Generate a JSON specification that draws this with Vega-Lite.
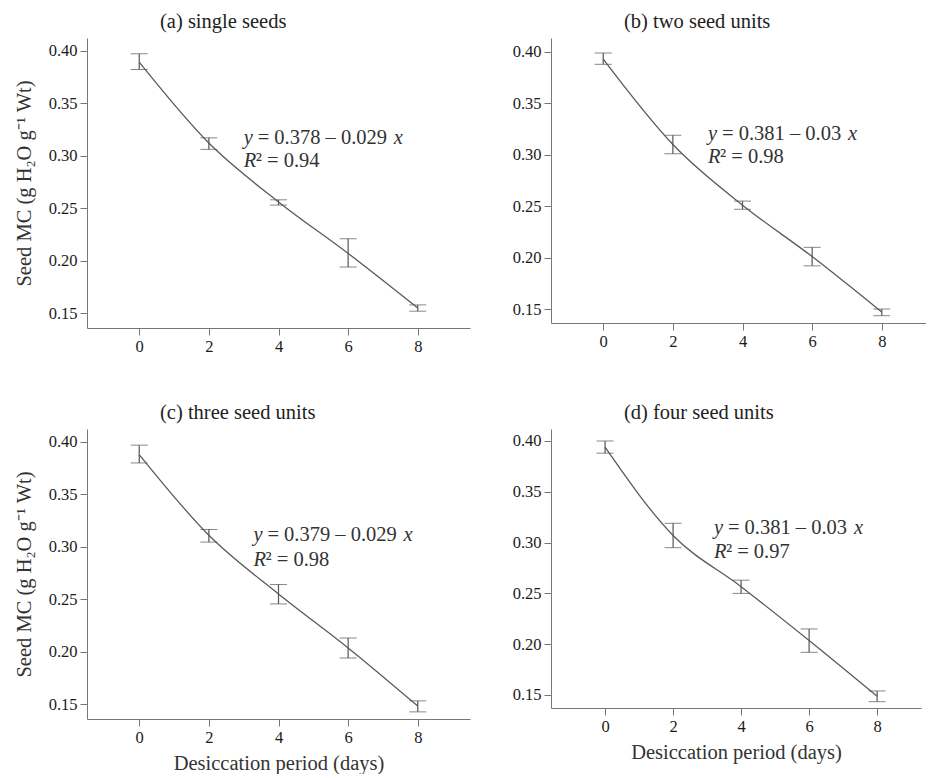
{
  "$schema": "https://vega.github.io/schema/vega-lite/v6.json",
  "padding": {"left": 14, "top": 11, "right": 0, "bottom": 0},
  "background": "white",
  "config": {
    "view": {"stroke": null},
    "font": "Liberation Serif",
    "style": {"guide-label": {"font": "Liberation Serif"}, "guide-title": {"font": "Liberation Serif"}},
    "text": {"font": "Liberation Serif"},
    "title": {"font": "Liberation Serif", "fontSize": 20.5, "fontWeight": "normal", "color": "#222", "anchor": "start", "frame": "group", "dx": 73, "offset": 6},
    "axis": {"grid": false, "domainColor": "#777", "tickColor": "#777", "labelFont": "Liberation Serif", "labelFontSize": 16.5, "labelColor": "#1a1a1a", "titleFont": "Liberation Serif", "titleFontSize": 20.5, "titleFontWeight": "normal", "titleColor": "#333", "tickSize": 7, "labelPadding": 3},
    "axisX": {"titlePadding": 8, "labelFont": "Liberation Serif"},
    "axisY": {"titlePadding": 14, "labelFont": "Liberation Serif"}
  },
  "datasets": {
    "mc": [
      {"panel": "a", "day": 0, "mean": 0.389, "lo": 0.382, "hi": 0.397},
      {"panel": "a", "day": 2, "mean": 0.312, "lo": 0.306, "hi": 0.317},
      {"panel": "a", "day": 4, "mean": 0.256, "lo": 0.253, "hi": 0.258},
      {"panel": "a", "day": 6, "mean": 0.207, "lo": 0.194, "hi": 0.221},
      {"panel": "a", "day": 8, "mean": 0.155, "lo": 0.152, "hi": 0.158},
      {"panel": "b", "day": 0, "mean": 0.393, "lo": 0.388, "hi": 0.399},
      {"panel": "b", "day": 2, "mean": 0.310, "lo": 0.301, "hi": 0.319},
      {"panel": "b", "day": 4, "mean": 0.251, "lo": 0.247, "hi": 0.255},
      {"panel": "b", "day": 6, "mean": 0.201, "lo": 0.192, "hi": 0.210},
      {"panel": "b", "day": 8, "mean": 0.147, "lo": 0.1435, "hi": 0.150},
      {"panel": "c", "day": 0, "mean": 0.388, "lo": 0.380, "hi": 0.397},
      {"panel": "c", "day": 2, "mean": 0.311, "lo": 0.3045, "hi": 0.3165},
      {"panel": "c", "day": 4, "mean": 0.255, "lo": 0.2455, "hi": 0.264},
      {"panel": "c", "day": 6, "mean": 0.2035, "lo": 0.194, "hi": 0.213},
      {"panel": "c", "day": 8, "mean": 0.148, "lo": 0.1425, "hi": 0.153},
      {"panel": "d", "day": 0, "mean": 0.394, "lo": 0.388, "hi": 0.400},
      {"panel": "d", "day": 2, "mean": 0.307, "lo": 0.295, "hi": 0.319},
      {"panel": "d", "day": 4, "mean": 0.2566, "lo": 0.250, "hi": 0.263},
      {"panel": "d", "day": 6, "mean": 0.2036, "lo": 0.192, "hi": 0.215},
      {"panel": "d", "day": 8, "mean": 0.1487, "lo": 0.1434, "hi": 0.154}
    ],
    "eq": [
      {"panel": "a", "px": 3.0, "py1": 0.317, "py2": 0.2948, "y": "y", "mid1": "= 0.378 – 0.029", "x": "x", "r": "R", "mid2": "² = 0.94"},
      {"panel": "b", "px": 3.01, "py1": 0.3202, "py2": 0.2976, "y": "y", "mid1": "= 0.381 – 0.03", "x": "x", "r": "R", "mid2": "² = 0.98"},
      {"panel": "c", "px": 3.28, "py1": 0.3108, "py2": 0.287, "y": "y", "mid1": "= 0.379 – 0.029", "x": "x", "r": "R", "mid2": "² = 0.98"},
      {"panel": "d", "px": 3.2, "py1": 0.314, "py2": 0.2904, "y": "y", "mid1": "= 0.381 – 0.03", "x": "x", "r": "R", "mid2": "² = 0.97"}
    ]
  },
  "spacing": 47,
  "vconcat": [
    {
      "spacing": 42,
      "hconcat": [
        {
          "width": 383, "height": 290,
          "title": "(a) single seeds",
          "layer": [
            {"data": {"name": "mc"}, "transform": [{"filter": "datum.panel == 'a'"}],
             "mark": {"type": "line", "interpolate": "monotone", "color": "#5a5a5a", "strokeWidth": 1.3},
             "encoding": {
               "x": {"field": "day", "type": "quantitative", "scale": {"domain": [-1.5, 9.5], "nice": false, "zero": false}, "axis": {"values": [0, 2, 4, 6, 8], "title": null, "labelFont": "Liberation Serif"}},
               "y": {"field": "mean", "type": "quantitative", "scale": {"domain": [0.136, 0.412], "nice": false, "zero": false}, "axis": {"values": [0.15, 0.2, 0.25, 0.3, 0.35, 0.4], "format": ".2f", "title": "Seed MC (g H₂O g⁻¹ Wt)", "labelFont": "Liberation Serif"}}}},
            {"data": {"name": "mc"}, "transform": [{"filter": "datum.panel == 'a'"}],
             "mark": {"type": "errorbar", "ticks": {"size": 17, "color": "#555"}, "rule": {"color": "#555", "strokeWidth": 1.2}},
             "encoding": {"x": {"field": "day", "type": "quantitative"}, "y": {"field": "lo", "type": "quantitative", "axis": {"title": "Seed MC (g H₂O g⁻¹ Wt)"}}, "y2": {"field": "hi"}}},
            {"data": {"name": "eq"}, "transform": [{"filter": "datum.panel == 'a'"}],
             "layer": [
               {"mark": {"type": "text", "font": "Liberation Serif", "fontStyle": "italic", "fontSize": 20.5, "align": "left", "baseline": "middle", "color": "#333"}, "encoding": {"x": {"field": "px", "type": "quantitative"}, "y": {"field": "py1", "type": "quantitative"}, "text": {"field": "y"}}},
               {"mark": {"type": "text", "font": "Liberation Serif", "fontSize": 20.5, "align": "left", "baseline": "middle", "dx": 14, "color": "#333"}, "encoding": {"x": {"field": "px", "type": "quantitative"}, "y": {"field": "py1", "type": "quantitative"}, "text": {"field": "mid1"}}},
               {"mark": {"type": "text", "font": "Liberation Serif", "fontStyle": "italic", "fontSize": 20.5, "align": "left", "baseline": "middle", "dx": 150, "color": "#333"}, "encoding": {"x": {"field": "px", "type": "quantitative"}, "y": {"field": "py1", "type": "quantitative"}, "text": {"field": "x"}}},
               {"mark": {"type": "text", "font": "Liberation Serif", "fontStyle": "italic", "fontSize": 20.5, "align": "left", "baseline": "middle", "color": "#333"}, "encoding": {"x": {"field": "px", "type": "quantitative"}, "y": {"field": "py2", "type": "quantitative"}, "text": {"field": "r"}}},
               {"mark": {"type": "text", "font": "Liberation Serif", "fontSize": 20.5, "align": "left", "baseline": "middle", "dx": 12, "color": "#333"}, "encoding": {"x": {"field": "px", "type": "quantitative"}, "y": {"field": "py2", "type": "quantitative"}, "text": {"field": "mid2"}}}
             ]}
          ]
        },
        {
          "width": 375, "height": 285,
          "title": "(b) two seed units",
          "layer": [
            {"data": {"name": "mc"}, "transform": [{"filter": "datum.panel == 'b'"}],
             "mark": {"type": "line", "interpolate": "monotone", "color": "#5a5a5a", "strokeWidth": 1.3},
             "encoding": {
               "x": {"field": "day", "type": "quantitative", "scale": {"domain": [-1.5, 9.27], "nice": false, "zero": false}, "axis": {"values": [0, 2, 4, 6, 8], "title": null, "labelFont": "Liberation Serif"}},
               "y": {"field": "mean", "type": "quantitative", "scale": {"domain": [0.1364, 0.4136], "nice": false, "zero": false}, "axis": {"values": [0.15, 0.2, 0.25, 0.3, 0.35, 0.4], "format": ".2f", "title": null, "labelFont": "Liberation Serif"}}}},
            {"data": {"name": "mc"}, "transform": [{"filter": "datum.panel == 'b'"}],
             "mark": {"type": "errorbar", "ticks": {"size": 17, "color": "#555"}, "rule": {"color": "#555", "strokeWidth": 1.2}},
             "encoding": {"x": {"field": "day", "type": "quantitative"}, "y": {"field": "lo", "type": "quantitative", "axis": {"title": null}}, "y2": {"field": "hi"}}},
            {"data": {"name": "eq"}, "transform": [{"filter": "datum.panel == 'b'"}],
             "layer": [
               {"mark": {"type": "text", "font": "Liberation Serif", "fontStyle": "italic", "fontSize": 20.5, "align": "left", "baseline": "middle", "color": "#333"}, "encoding": {"x": {"field": "px", "type": "quantitative"}, "y": {"field": "py1", "type": "quantitative"}, "text": {"field": "y"}}},
               {"mark": {"type": "text", "font": "Liberation Serif", "fontSize": 20.5, "align": "left", "baseline": "middle", "dx": 14, "color": "#333"}, "encoding": {"x": {"field": "px", "type": "quantitative"}, "y": {"field": "py1", "type": "quantitative"}, "text": {"field": "mid1"}}},
               {"mark": {"type": "text", "font": "Liberation Serif", "fontStyle": "italic", "fontSize": 20.5, "align": "left", "baseline": "middle", "dx": 140, "color": "#333"}, "encoding": {"x": {"field": "px", "type": "quantitative"}, "y": {"field": "py1", "type": "quantitative"}, "text": {"field": "x"}}},
               {"mark": {"type": "text", "font": "Liberation Serif", "fontStyle": "italic", "fontSize": 20.5, "align": "left", "baseline": "middle", "color": "#333"}, "encoding": {"x": {"field": "px", "type": "quantitative"}, "y": {"field": "py2", "type": "quantitative"}, "text": {"field": "r"}}},
               {"mark": {"type": "text", "font": "Liberation Serif", "fontSize": 20.5, "align": "left", "baseline": "middle", "dx": 12, "color": "#333"}, "encoding": {"x": {"field": "px", "type": "quantitative"}, "y": {"field": "py2", "type": "quantitative"}, "text": {"field": "mid2"}}}
             ]}
          ]
        }
      ]
    },
    {
      "spacing": 42,
      "hconcat": [
        {
          "width": 383, "height": 290,
          "title": "(c) three seed units",
          "layer": [
            {"data": {"name": "mc"}, "transform": [{"filter": "datum.panel == 'c'"}],
             "mark": {"type": "line", "interpolate": "monotone", "color": "#5a5a5a", "strokeWidth": 1.3},
             "encoding": {
               "x": {"field": "day", "type": "quantitative", "scale": {"domain": [-1.5, 9.5], "nice": false, "zero": false}, "axis": {"values": [0, 2, 4, 6, 8], "title": "Desiccation period (days)", "labelFont": "Liberation Serif"}},
               "y": {"field": "mean", "type": "quantitative", "scale": {"domain": [0.1357, 0.4124], "nice": false, "zero": false}, "axis": {"values": [0.15, 0.2, 0.25, 0.3, 0.35, 0.4], "format": ".2f", "title": "Seed MC (g H₂O g⁻¹ Wt)", "labelFont": "Liberation Serif"}}}},
            {"data": {"name": "mc"}, "transform": [{"filter": "datum.panel == 'c'"}],
             "mark": {"type": "errorbar", "ticks": {"size": 17, "color": "#555"}, "rule": {"color": "#555", "strokeWidth": 1.2}},
             "encoding": {"x": {"field": "day", "type": "quantitative", "axis": {"title": "Desiccation period (days)"}}, "y": {"field": "lo", "type": "quantitative", "axis": {"title": "Seed MC (g H₂O g⁻¹ Wt)"}}, "y2": {"field": "hi"}}},
            {"data": {"name": "eq"}, "transform": [{"filter": "datum.panel == 'c'"}],
             "layer": [
               {"mark": {"type": "text", "font": "Liberation Serif", "fontStyle": "italic", "fontSize": 20.5, "align": "left", "baseline": "middle", "color": "#333"}, "encoding": {"x": {"field": "px", "type": "quantitative"}, "y": {"field": "py1", "type": "quantitative"}, "text": {"field": "y"}}},
               {"mark": {"type": "text", "font": "Liberation Serif", "fontSize": 20.5, "align": "left", "baseline": "middle", "dx": 14, "color": "#333"}, "encoding": {"x": {"field": "px", "type": "quantitative"}, "y": {"field": "py1", "type": "quantitative"}, "text": {"field": "mid1"}}},
               {"mark": {"type": "text", "font": "Liberation Serif", "fontStyle": "italic", "fontSize": 20.5, "align": "left", "baseline": "middle", "dx": 150, "color": "#333"}, "encoding": {"x": {"field": "px", "type": "quantitative"}, "y": {"field": "py1", "type": "quantitative"}, "text": {"field": "x"}}},
               {"mark": {"type": "text", "font": "Liberation Serif", "fontStyle": "italic", "fontSize": 20.5, "align": "left", "baseline": "middle", "color": "#333"}, "encoding": {"x": {"field": "px", "type": "quantitative"}, "y": {"field": "py2", "type": "quantitative"}, "text": {"field": "r"}}},
               {"mark": {"type": "text", "font": "Liberation Serif", "fontSize": 20.5, "align": "left", "baseline": "middle", "dx": 12, "color": "#333"}, "encoding": {"x": {"field": "px", "type": "quantitative"}, "y": {"field": "py2", "type": "quantitative"}, "text": {"field": "mid2"}}}
             ]}
          ]
        },
        {
          "width": 370, "height": 279,
          "title": "(d) four seed units",
          "layer": [
            {"data": {"name": "mc"}, "transform": [{"filter": "datum.panel == 'd'"}],
             "mark": {"type": "line", "interpolate": "monotone", "color": "#5a5a5a", "strokeWidth": 1.3},
             "encoding": {
               "x": {"field": "day", "type": "quantitative", "scale": {"domain": [-1.59, 9.29], "nice": false, "zero": false}, "axis": {"values": [0, 2, 4, 6, 8], "title": "Desiccation period (days)", "labelFont": "Liberation Serif"}},
               "y": {"field": "mean", "type": "quantitative", "scale": {"domain": [0.1372, 0.4118], "nice": false, "zero": false}, "axis": {"values": [0.15, 0.2, 0.25, 0.3, 0.35, 0.4], "format": ".2f", "title": null, "labelFont": "Liberation Serif"}}}},
            {"data": {"name": "mc"}, "transform": [{"filter": "datum.panel == 'd'"}],
             "mark": {"type": "errorbar", "ticks": {"size": 17, "color": "#555"}, "rule": {"color": "#555", "strokeWidth": 1.2}},
             "encoding": {"x": {"field": "day", "type": "quantitative", "axis": {"title": "Desiccation period (days)"}}, "y": {"field": "lo", "type": "quantitative", "axis": {"title": null}}, "y2": {"field": "hi"}}},
            {"data": {"name": "eq"}, "transform": [{"filter": "datum.panel == 'd'"}],
             "layer": [
               {"mark": {"type": "text", "font": "Liberation Serif", "fontStyle": "italic", "fontSize": 20.5, "align": "left", "baseline": "middle", "color": "#333"}, "encoding": {"x": {"field": "px", "type": "quantitative"}, "y": {"field": "py1", "type": "quantitative"}, "text": {"field": "y"}}},
               {"mark": {"type": "text", "font": "Liberation Serif", "fontSize": 20.5, "align": "left", "baseline": "middle", "dx": 14, "color": "#333"}, "encoding": {"x": {"field": "px", "type": "quantitative"}, "y": {"field": "py1", "type": "quantitative"}, "text": {"field": "mid1"}}},
               {"mark": {"type": "text", "font": "Liberation Serif", "fontStyle": "italic", "fontSize": 20.5, "align": "left", "baseline": "middle", "dx": 140, "color": "#333"}, "encoding": {"x": {"field": "px", "type": "quantitative"}, "y": {"field": "py1", "type": "quantitative"}, "text": {"field": "x"}}},
               {"mark": {"type": "text", "font": "Liberation Serif", "fontStyle": "italic", "fontSize": 20.5, "align": "left", "baseline": "middle", "color": "#333"}, "encoding": {"x": {"field": "px", "type": "quantitative"}, "y": {"field": "py2", "type": "quantitative"}, "text": {"field": "r"}}},
               {"mark": {"type": "text", "font": "Liberation Serif", "fontSize": 20.5, "align": "left", "baseline": "middle", "dx": 12, "color": "#333"}, "encoding": {"x": {"field": "px", "type": "quantitative"}, "y": {"field": "py2", "type": "quantitative"}, "text": {"field": "mid2"}}}
             ]}
          ]
        }
      ]
    }
  ]
}
